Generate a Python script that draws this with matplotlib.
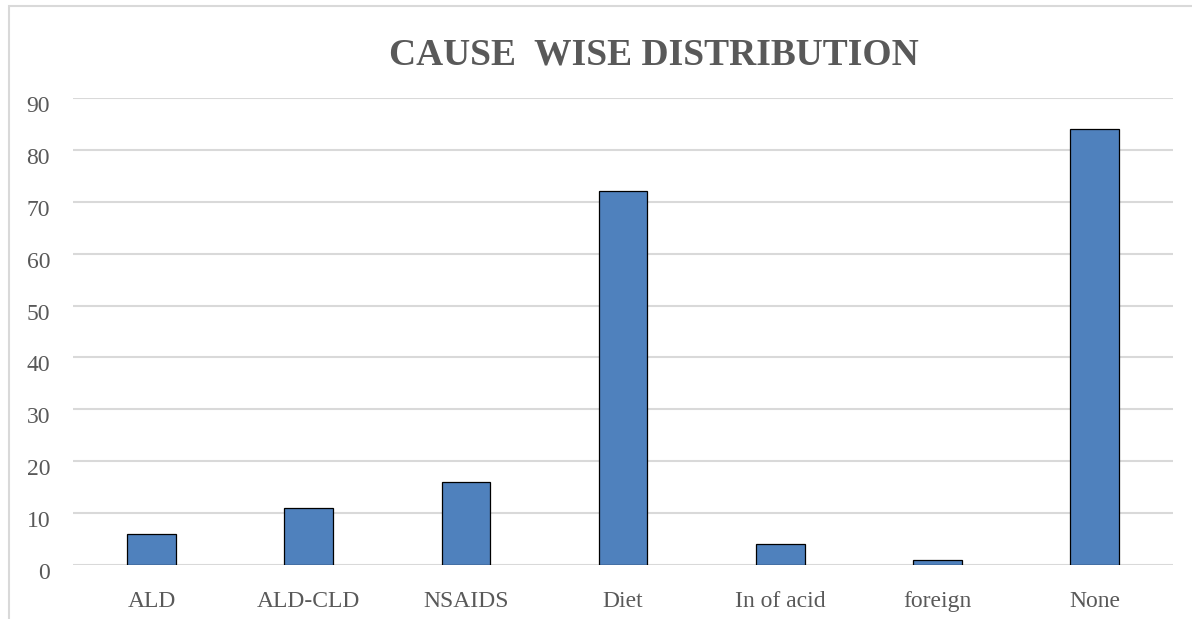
import matplotlib
matplotlib.use("Agg")
import matplotlib.pyplot as plt
from matplotlib.patches import Rectangle
from matplotlib.transforms import ScaledTranslation

categories = ["ALD", "ALD-CLD", "NSAIDS", "Diet", "In of acid", "foreign", "None"]
counts = [6, 11, 16, 72, 4, 1, 84]
y_ticks = [0, 10, 20, 30, 40, 50, 60, 70, 80, 90]

W, H = 1192, 619
fig = plt.figure(figsize=(W / 100, H / 100), dpi=100)
plt.rcParams["font.family"] = ["Liberation Serif", "DejaVu Serif"]

# light outer chart frame
fig.patches.append(Rectangle((9 / W, -0.05), 1.2, 1 - 6 / H + 0.05,
                             transform=fig.transFigure, fill=False,
                             edgecolor="#d9d9d9", linewidth=1.5))

ax = fig.add_axes([73 / W, (H - 565) / H, 1100 / W, (565 - 98) / H])
x = range(len(categories))
ax.bar(x, counts, width=0.31, color="#4F81BD", edgecolor="black",
       linewidth=0.9, zorder=3)
ax.set_xlim(-0.5, len(categories) - 0.5)
ax.set_ylim(0, 90)
ax.set_yticks(y_ticks)
ax.set_xticks(list(x))
ax.set_xticklabels(categories)
ax.grid(axis="y", color="#d9d9d9", linewidth=1.5, zorder=0)
for s in ax.spines.values():
    s.set_visible(False)
ax.tick_params(axis="both", length=0, labelsize=17, labelcolor="#595959")
ax.tick_params(axis="y", pad=16.5)
ax.tick_params(axis="x", pad=19)

# value labels sit slightly below their gridlines
shift = ScaledTranslation(0, -6 / 100, fig.dpi_scale_trans)
for lbl in ax.get_yticklabels():
    lbl.set_transform(lbl.get_transform() + shift)

fig.text(654 / W, (H - 55) / H, "CAUSE  WISE DISTRIBUTION", ha="center",
         va="center", fontsize=27, fontweight="bold", color="#595959")

fig.savefig("out.png", dpi=100)
